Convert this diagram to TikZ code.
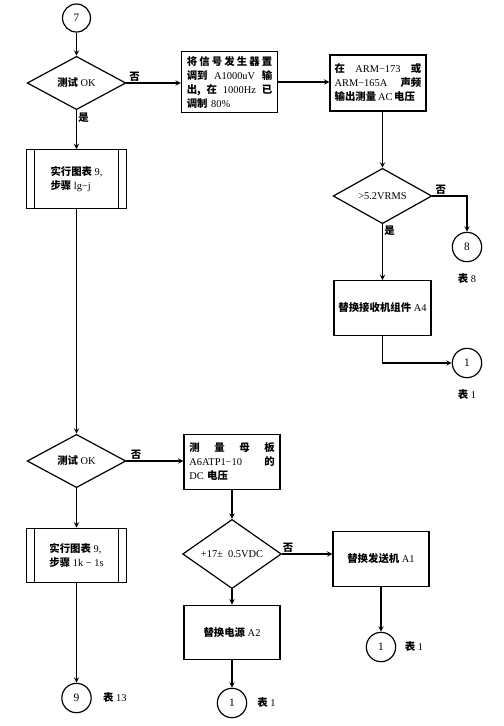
\documentclass[tikz,border=0pt]{standalone}
\usepackage{fontspec}
\setmainfont{Liberation Serif}
\newfontfamily\cjk{Noto Sans CJK SC}
\usepackage{tikz}
\usetikzlibrary{shapes.geometric,arrows,positioning,calc}
\newcommand{\zh}[1]{{\cjk\bfseries #1}}
\newcommand{\jl}[2]{\makebox[#1][s]{#2}}

\begin{document}
\begin{tikzpicture}[x=0.75pt, y=-0.75pt,
    every node/.style={font=\fontsize{7.8}{10.5}\selectfont},
    proc/.style={rectangle, draw, line width=0.9pt, minimum width=72pt, minimum height=41pt, align=left},
    decision/.style={diamond, draw, line width=0.9pt, minimum width=74pt, minimum height=40pt, inner sep=0pt},
    conn/.style={circle, draw, line width=0.9pt, minimum size=22pt, inner sep=0pt, font=\fontsize{8.5}{10}\selectfont},
    arrow/.style={->, >=stealth, line width=0.8pt},
    tag/.style={inner sep=1pt}
]
\useasboundingbox (0,0) rectangle (504,726);
% upper part
\node[conn, minimum size=21pt] (c7) at (76.5,18) {7};
\node[decision] (d1) at (76.5,83) {\zh{测试} OK};
\node[proc, text width=64pt] (p1) at (229.5,82) {\jl{64pt}{\zh{将\hfill 信\hfill 号\hfill 发\hfill 生\hfill 器\hfill 置}}\\ \jl{64pt}{\zh{调到}\hfill A1000uV\hfill \zh{输}}\\ \jl{64pt}{\zh{出,}\hfill \zh{在}\hfill 1000Hz\hfill \zh{已}}\\ \zh{调制} 80\%};
\node[proc, text width=65pt, inner xsep=2pt, minimum height=42pt] (p2) at (378,83) {\jl{65pt}{\zh{在}\hfill ARM−173\hfill \zh{或}}\\ \jl{65pt}{ARM−165A\hfill \zh{声频}}\\ \zh{输出测量}\,AC\,\zh{电压}};
\node[decision] (d2) at (382.5,196) {>5.2VRMS};
\node[conn] (c8) at (467,247) {8};
\node[below=5pt of c8] (t8) {\zh{表} 8};
\node[proc, minimum width=71pt] (p3) at (382.5,308) {\zh{替换接收机组件} A4};
\node[conn] (c1a) at (467,363) {1};
\node[below=5pt of c1a] (t1a) {\zh{表} 1};
\node[proc, minimum width=75pt, minimum height=44pt] (s1) at (76.5,179) {\zh{实行图表} 9,\\ \zh{步骤} lg−j};
% lower part
\node[decision] (d3) at (76.5,461) {\zh{测试} OK};
\node[proc, text width=64pt] (p4) at (232,462) {\jl{64pt}{\zh{测\hfill 量\hfill 母\hfill 板}}\\ \jl{64pt}{A6ATP1−10\hfill \zh{的}}\\ DC \zh{电压}};
\node[decision] (d4) at (232,554) {+17± \ 0.5VDC};
\node[proc] (p5) at (381,559) {\zh{替换发送机} A1};
\node[conn] (c1b) at (381,647) {1};
\node[right=3pt of c1b] (t1b) {\zh{表} 1};
\node[proc] (p6) at (232,632.5) {\zh{替换电源} A2};
\node[conn] (c1c) at (232,703) {1};
\node[right=4pt of c1c] (t1c) {\zh{表} 1};
\node[proc, minimum width=75pt] (s2) at (76.5,555.5) {\zh{实行图表} 9,\\ \zh{步骤} 1k − 1s};
\node[conn] (c9) at (76.5,698) {9};
\node[right=5pt of c9] (t9) {\zh{表} 13};
\foreach \b in {s1,s2}
  \draw[line width=0.9pt] ([xshift=6.5pt]\b.north west) -- ([xshift=6.5pt]\b.south west)
    ([xshift=-6.5pt]\b.north east) -- ([xshift=-6.5pt]\b.south east);
% connectors
\draw[arrow] (c7) -- (d1);
\draw[arrow] (d1.east) -- node[pos=0.15, above, tag] {\zh{否}} (d1.east -| p1.west);
\draw[arrow] (d1.south) -- node[pos=0.2, right, tag] {\zh{是}} (s1.north);
\draw[arrow] (p1.east) -- (p1.east -| p2.west);
\draw[arrow] (p2.south -| d2.north) -- (d2.north);
\draw[arrow] (d2.east) -| node[pos=0.12, above, tag] {\zh{否}} (c8.north);
\draw[arrow] (d2.south) -- node[pos=0.12, right, tag] {\zh{是}} (p3.north);
\draw[arrow] (p3.south) |- (c1a.west);
\draw[arrow] (s1.south) -- (d3.north);
\draw[arrow] (d3.east) -- node[pos=0.17, above, tag] {\zh{否}} (d3.east -| p4.west);
\draw[arrow] (d3.south) -- (s2.north);
\draw[arrow] (s2.south) -- (c9.north);
\draw[arrow] (p4.south -| d4.north) -- (d4.north);
\draw[arrow] (d4.east) -- node[pos=0.12, above, tag] {\zh{否}} (d4.east -| p5.west);
\draw[arrow] (d4.south) -- (p6.north);
\draw[arrow] (p5.south) -- (c1b.north);
\draw[arrow] (p6.south) -- (c1c.north);
\end{tikzpicture}
\end{document}
